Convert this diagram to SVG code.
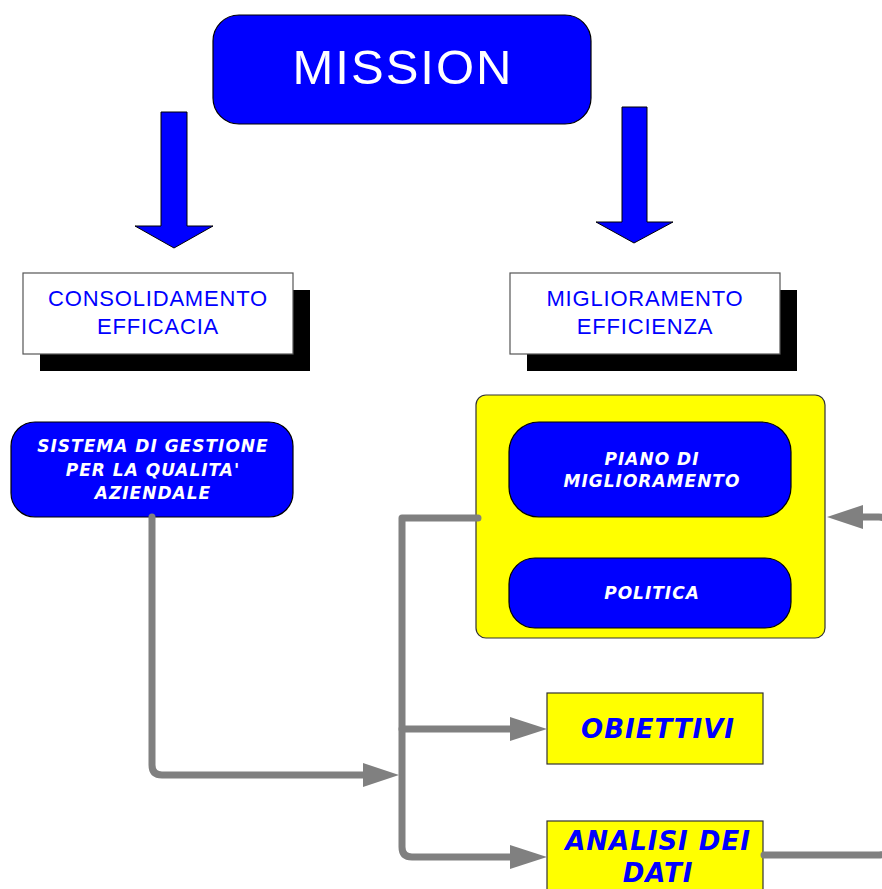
<svg xmlns="http://www.w3.org/2000/svg" width="882" height="889" viewBox="0 0 882 889">
  <style>
    .blue { fill: #0000ff; stroke: #000; stroke-width: 1.2; }
    .card { fill: #fff; stroke: #555; stroke-width: 1.2; }
    .shadow { fill: #000; }
    .yellow { fill: #ffff00; stroke: #333; stroke-width: 1.2; }
    .head { fill: #0000ff; stroke: #000; stroke-width: 1; }
    .plain { font-family: "Liberation Sans", "DejaVu Sans", sans-serif; text-anchor: middle; }
    .bi { font-family: "DejaVu Sans", "Liberation Sans", sans-serif; font-weight: bold; font-style: italic; text-anchor: middle; letter-spacing: 1px; }
    .wire { fill: none; stroke: #808080; stroke-width: 7; stroke-linecap: round; stroke-linejoin: round; }
    .tip { fill: #808080; }
  </style>

  <g id="mission">
    <rect class="blue" x="213" y="15" width="378" height="109" rx="26"/>
    <text class="plain" x="403" y="84" font-size="49" fill="#fff" letter-spacing="2">MISSION</text>
  </g>

  <g id="arrow-left">
    <path class="head" d="M161,112 H187 V226 H213 L174,248 L135,226 H161 Z"/>
  </g>
  <g id="arrow-right">
    <path class="head" d="M622,107 H647 V222 H673 L634,243 L596,222 H622 Z"/>
  </g>

  <g id="consolidamento">
    <rect class="shadow" x="40" y="290" width="270" height="81"/>
    <rect class="card" x="23" y="273" width="270" height="81"/>
    <text class="plain" x="158" y="306" font-size="22" fill="#0000ff" letter-spacing="0.8">CONSOLIDAMENTO</text>
    <text class="plain" x="158" y="334" font-size="22" fill="#0000ff" letter-spacing="0.8">EFFICACIA</text>
  </g>

  <g id="miglioramento">
    <rect class="shadow" x="527" y="290" width="270" height="81"/>
    <rect class="card" x="510" y="273" width="270" height="81"/>
    <text class="plain" x="645" y="306" font-size="22" fill="#0000ff" letter-spacing="0.8">MIGLIORAMENTO</text>
    <text class="plain" x="645" y="334" font-size="22" fill="#0000ff" letter-spacing="0.8">EFFICIENZA</text>
  </g>

  <g id="sistema">
    <rect class="blue" x="11" y="422" width="282" height="95" rx="24"/>
    <text class="bi" x="153" y="452" font-size="17" fill="#fff">SISTEMA DI GESTIONE</text>
    <text class="bi" x="153" y="476" font-size="17" fill="#fff">PER LA QUALITA'</text>
    <text class="bi" x="153" y="499" font-size="17" fill="#fff">AZIENDALE</text>
  </g>

  <g id="gruppo-piano">
    <rect class="yellow" x="476" y="395" width="349" height="243" rx="10"/>
    <g id="piano">
      <rect class="blue" x="509" y="422" width="282" height="95" rx="30"/>
      <text class="bi" x="652" y="465" font-size="17" fill="#fff">PIANO DI</text>
      <text class="bi" x="652" y="487" font-size="17" fill="#fff">MIGLIORAMENTO</text>
    </g>
    <g id="politica">
      <rect class="blue" x="509" y="558" width="282" height="70" rx="26"/>
      <text class="bi" x="652" y="599" font-size="17" fill="#fff">POLITICA</text>
    </g>
  </g>

  <g id="obiettivi">
    <rect class="yellow" x="547" y="693" width="216" height="71"/>
    <text class="bi" x="658" y="738" font-size="26" fill="#0000ff">OBIETTIVI</text>
  </g>

  <g id="analisi">
    <rect class="yellow" x="547" y="821" width="216" height="80"/>
    <text class="bi" x="658" y="850" font-size="26" fill="#0000ff">ANALISI DEI</text>
    <text class="bi" x="658" y="882" font-size="26" fill="#0000ff">DATI</text>
  </g>

  <g id="connectors">
    <path class="wire" d="M152,517 V765 Q152,775 162,775 H366"/>
    <polygon class="tip" points="363,763 399,775 363,787"/>
    <path class="wire" d="M478,518 H402 V847 Q402,857 412,857 H512"/>
    <polygon class="tip" points="510,845 547,857 510,869"/>
    <path class="wire" d="M402,729 H512"/>
    <polygon class="tip" points="510,717 547,729 510,741"/>
    <path class="wire" d="M764,855 H879 Q889,855 889,845 V527 Q889,517 879,517 H852"/>
    <polygon class="tip" points="863,505 827,517 863,529"/>
  </g>
</svg>
